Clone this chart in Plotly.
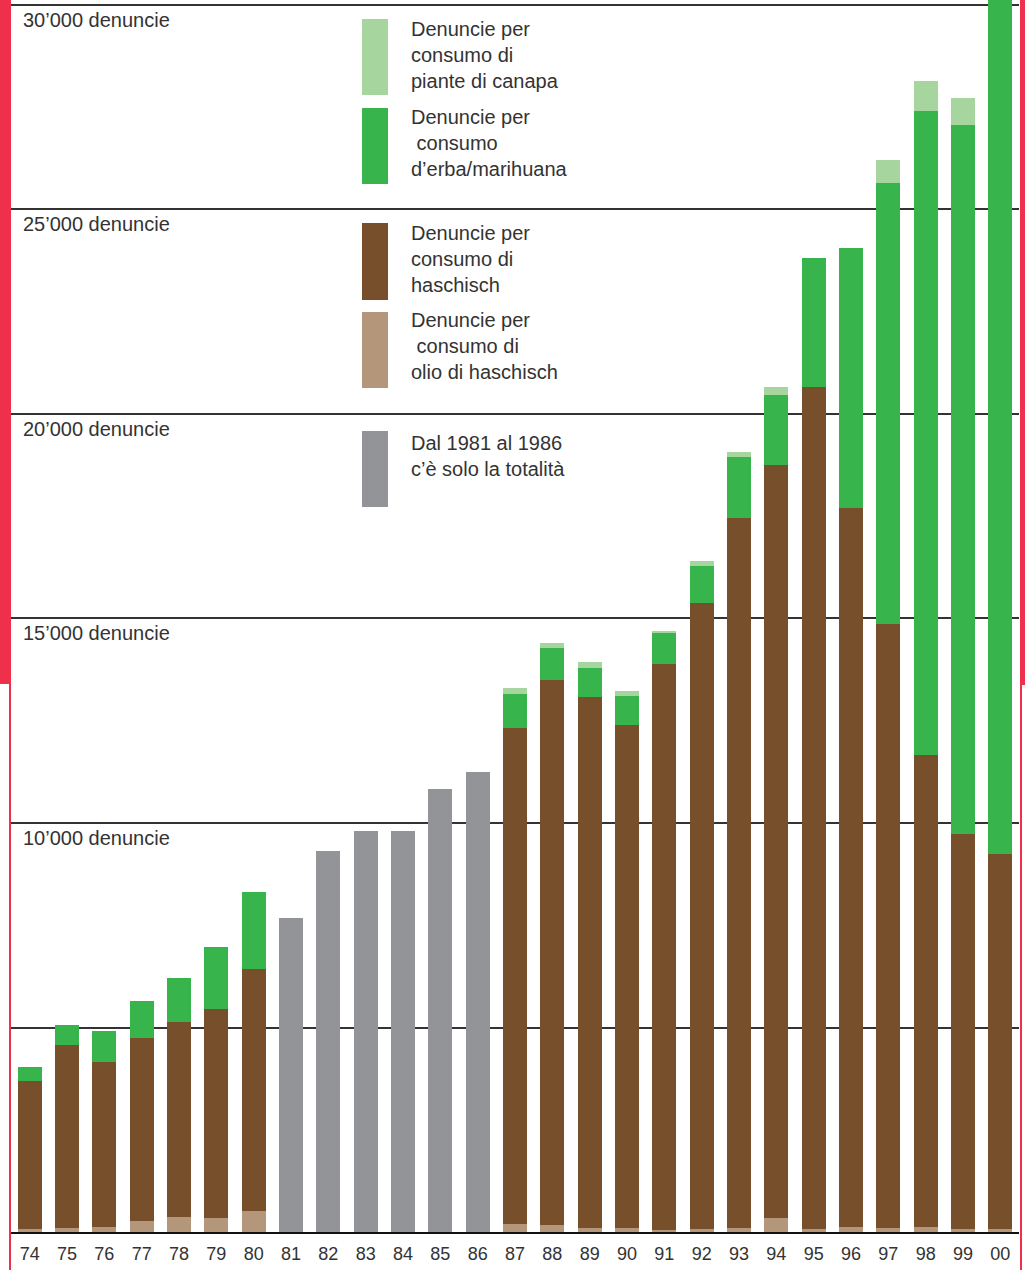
import plotly.graph_objects as go

years = ["74", "75", "76", "77", "78", "79", "80", "81", "82", "83", "84", "85", "86",
         "87", "88", "89", "90", "91", "92", "93", "94", "95", "96", "97", "98", "99", "00"]

olio_haschisch = [73, 98, 122, 269, 367, 342, 513, None, None, None, None, None, None,
                  196, 171, 98, 98, 49, 73, 98, 342, 73, 122, 98, 122, 73, 73]
haschisch = [3619, 4474, 4035, 4474, 4768, 5110, 5917, None, None, None, None, None, None,
             12127, 13325, 12983, 12298, 13839, 15306, 17359, 18411, 20587, 17580, 14768, 11541, 9658, 9169]
marihuana = [342, 489, 757, 905, 1075, 1516, 1883, None, None, None, None, None, None,
             831, 783, 709, 709, 758, 905, 1492, 1712, 3154, 6357, 10782, 15745, 17335, 21500]
piante_canapa = [None, None, None, None, None, None, None, None, None, None, None, None, None,
                 147, 122, 147, 122, 48, 122, 122, 195, None, None, 562, 734, 660, None]
totalita = [None, None, None, None, None, None, None, 7677, 9315, 9804, 9804, 10831, 11247,
            None, None, None, None, None, None, None, None, None, None, None, None, None, None]

grid_values = [10000, 15000, 20000, 25000, 30000]
grid_labels = ["10’000 denuncie", "15’000 denuncie", "20’000 denuncie",
               "25’000 denuncie", "30’000 denuncie"]

legend_texts = [
    "Denuncie per<br>consumo di<br>piante di canapa",
    "Denuncie per<br>\u00a0consumo<br>d’erba/marihuana",
    "Denuncie per<br>consumo di<br>haschisch",
    "Denuncie per<br>\u00a0consumo di<br>olio di haschisch",
    "Dal 1981 al 1986<br>c’è solo la totalità",
]

C_LIGHT = "#A6D59D"
C_GREEN = "#37B44B"
C_BROWN = "#77502B"
C_OIL = "#B4977B"
C_GRAY = "#939498"
C_RED = "#EF304A"

W, H = 1025, 1270
ML, MR, MT, MB = 11, 6, 0, 38
PW = W - ML - MR
PH = H - MT - MB


def px(x):
    return (x - ML) / PW


def py(y):
    return (MT + PH - y) / PH


fig = go.Figure()
for name, vals, col in [("olio di haschisch", olio_haschisch, C_OIL),
                        ("haschisch", haschisch, C_BROWN),
                        ("erba/marihuana", marihuana, C_GREEN),
                        ("piante di canapa", piante_canapa, C_LIGHT),
                        ("totalità", totalita, C_GRAY)]:
    fig.add_trace(go.Bar(x=years, y=vals, name=name, marker=dict(color=col, line=dict(width=0)),
                         showlegend=False, hoverinfo="skip"))

shapes = []
# red decorations
shapes.append(dict(type="rect", xref="paper", yref="paper", x0=px(0), x1=px(11), y0=py(684), y1=py(0),
                   fillcolor=C_RED, line=dict(width=0), layer="above"))
shapes.append(dict(type="rect", xref="paper", yref="paper", x0=px(9), x1=px(11), y0=py(1270), y1=py(684),
                   fillcolor=C_RED, line=dict(width=0), layer="above"))
shapes.append(dict(type="rect", xref="paper", yref="paper", x0=px(1020), x1=px(1025), y0=py(685), y1=py(0),
                   fillcolor=C_RED, line=dict(width=0), layer="above"))
shapes.append(dict(type="rect", xref="paper", yref="paper", x0=px(1020), x1=px(1022), y0=py(1270), y1=py(685),
                   fillcolor=C_RED, line=dict(width=0), layer="above"))

# legend swatches (top, bottom px) and first text line centre (px)
sw = [(19, 95, C_LIGHT), (108, 184, C_GREEN), (223, 300, C_BROWN), (312, 388, C_OIL), (431, 507, C_GRAY)]
text_centres = [29, 117, 233, 320, 443]
for (y0, y1, col) in sw:
    shapes.append(dict(type="rect", xref="paper", yref="paper", x0=px(362), x1=px(388),
                       y0=py(y1), y1=py(y0), fillcolor=col, line=dict(width=0), layer="above"))

annotations = []
for v, t in zip(grid_values, grid_labels):
    annotations.append(dict(text=t, xref="paper", yref="y", x=px(21), y=v, xanchor="left",
                            yanchor="top", showarrow=False, yshift=-2,
                            font=dict(family="Liberation Sans, Arial", size=20, color="#333333")))
for c, t in zip(text_centres, legend_texts):
    annotations.append(dict(text=t, xref="paper", yref="paper", x=px(409), y=py(c - 13), xanchor="left",
                            yanchor="top", align="left", showarrow=False,
                            font=dict(family="Liberation Sans, Arial", size=20, color="#333333")))

fig.update_layout(
    width=W, height=H,
    margin=dict(l=ML, r=MR, t=MT, b=MB, pad=0),
    barmode="stack", bargap=0.357,
    paper_bgcolor="white", plot_bgcolor="white",
    shapes=shapes, annotations=annotations,
    xaxis=dict(type="category", showline=True, linecolor="#111111", linewidth=2,
               ticks="", showgrid=False, ticklabelstandoff=4,
               tickfont=dict(family="Liberation Sans, Arial", size=18, color="#333333")),
    yaxis=dict(range=[0, 30122], showticklabels=False, dtick=5000, tick0=0,
               showgrid=True, gridcolor="#333333", gridwidth=1.5, zeroline=False, showline=False),
    hovermode=False,
)

fig.write_html("out.html", config={"displayModeBar": False})
